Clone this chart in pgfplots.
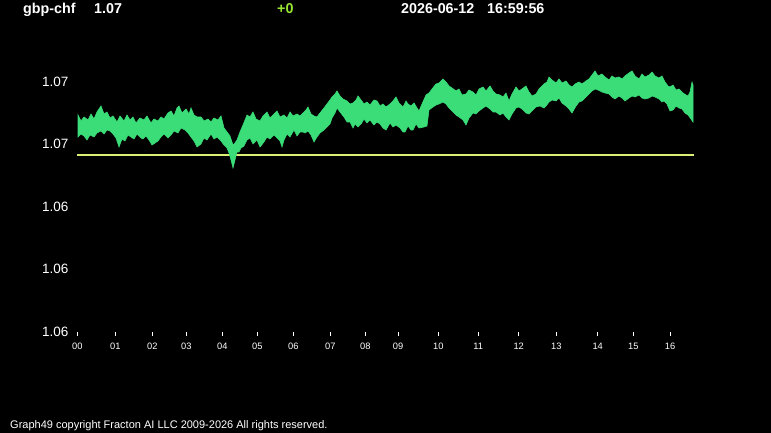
\documentclass[border=0pt]{standalone}
\usepackage{pgfplots}
\pgfplotsset{compat=1.18}
\usepackage{fontspec}
\setmainfont{Liberation Sans}
\definecolor{gbpgreen}{HTML}{3ADD78}
\definecolor{refyellow}{HTML}{DDEE77}
\definecolor{chglime}{HTML}{99E633}
\begin{document}
\begin{tikzpicture}[x=1pt,y=1pt]
\fill[black] (0,0) rectangle (771,433);
\useasboundingbox (0,0) rectangle (771,433);
\begin{axis}[
  at={(77pt,102pt)}, anchor=origin,
  scale only axis, width=623pt, height=266pt,
  xmin=77, xmax=700, ymin=1.0575, ymax=1.06814,
  axis x line*=bottom, axis y line*=left,
  axis line style={draw=none},
  xtick={77.3,115.3,152.3,186.3,222.3,257.3,293.3,330.3,365.3,398,438.3,478.3,518.7,556.3,597.7,633.3,670},
  xticklabels={00,01,02,03,04,05,06,07,08,09,10,11,12,13,14,15,16},
  ytick={1.0575,1.06,1.0625,1.065,1.0675},
  yticklabels={1.06,1.06,1.06,1.07,1.07},
  tick align=outside,
  x tick style={white, line width=0.9pt, yshift=-1.5pt},
  major tick length=3.5pt,
  y tick style={draw=none},
  xticklabel style={white, font=\fontsize{9.3}{9.3}\selectfont, anchor=north, inner sep=0pt, yshift=-8.5pt},
  yticklabel style={white, font=\fontsize{13.5}{13.5}\selectfont, anchor=east, inner sep=0pt, xshift=-5pt, yshift=-0.8pt},
]
\addplot[refyellow, line width=2pt] coordinates {(77,1.06454) (694,1.06454)};
\addplot[fill=gbpgreen, draw=gbpgreen, line width=0.6pt] coordinates {
(78,1.06614) (81,1.06590) (84,1.06606) (88,1.06594) (91,1.06618) (94,1.06598) (97,1.06626) (101,1.06650)
(104,1.06618) (107,1.06626) (110,1.06602) (113,1.06610) (117,1.06586) (120,1.06610) (124,1.06590) (127,1.06614)
(130,1.06594) (133,1.06606) (136,1.06582) (140,1.06602) (144,1.06594) (147,1.06610) (151,1.06582) (154,1.06598)
(158,1.06590) (161,1.06606) (164,1.06598) (168,1.06622) (171,1.06630) (174,1.06610) (177,1.06642) (179,1.06650)
(182,1.06622) (186,1.06638) (189,1.06618) (191,1.06642) (194,1.06614) (197,1.06606) (201,1.06606) (204,1.06590)
(208,1.06598) (211,1.06586) (214,1.06602) (218,1.06594) (221,1.06610) (224,1.06562) (227,1.06546) (230,1.06530)
(233,1.06494) (235,1.06502) (237,1.06514) (240,1.06546) (243,1.06574) (247,1.06614) (250,1.06606) (253,1.06626)
(256,1.06598) (260,1.06590) (263,1.06610) (267,1.06626) (270,1.06602) (273,1.06614) (277,1.06630) (280,1.06606)
(284,1.06614) (287,1.06602) (290,1.06626) (293,1.06610) (297,1.06618) (300,1.06610) (303,1.06622) (306,1.06634)
(308,1.06646) (311,1.06618) (314,1.06610) (317,1.06606) (320,1.06622) (324,1.06642) (327,1.06658) (330,1.06674)
(332,1.06686) (335,1.06698) (337,1.06710) (340,1.06690) (343,1.06678) (347,1.06670) (350,1.06658) (353,1.06662)
(356,1.06674) (358,1.06690) (361,1.06674) (364,1.06658) (367,1.06666) (370,1.06654) (374,1.06674) (377,1.06670)
(380,1.06650) (383,1.06658) (386,1.06646) (390,1.06658) (393,1.06670) (396,1.06686) (399,1.06662) (403,1.06646)
(406,1.06670) (408,1.06658) (411,1.06650) (414,1.06662) (417,1.06642) (419,1.06630) (422,1.06658) (426,1.06694)
(429,1.06702) (432,1.06718) (436,1.06738) (439,1.06742) (443,1.06758) (446,1.06746) (449,1.06730) (452,1.06722)
(456,1.06710) (459,1.06718) (462,1.06694) (466,1.06698) (469,1.06714) (473,1.06706) (476,1.06694) (479,1.06718)
(483,1.06726) (486,1.06710) (490,1.06730) (493,1.06710) (496,1.06698) (500,1.06694) (503,1.06686) (506,1.06702)
(509,1.06670) (512,1.06698) (516,1.06726) (519,1.06710) (522,1.06718) (526,1.06730) (529,1.06706) (532,1.06690)
(536,1.06698) (539,1.06718) (544,1.06738) (547,1.06746) (549,1.06766) (552,1.06754) (556,1.06742) (559,1.06758)
(562,1.06742) (566,1.06750) (569,1.06734) (572,1.06726) (575,1.06738) (579,1.06746) (582,1.06738) (586,1.06750)
(589,1.06758) (592,1.06774) (595,1.06790) (598,1.06770) (602,1.06778) (605,1.06766) (609,1.06754) (612,1.06770)
(615,1.06762) (619,1.06766) (622,1.06758) (625,1.06770) (629,1.06782) (632,1.06790) (635,1.06770) (639,1.06758)
(642,1.06778) (645,1.06766) (649,1.06774) (652,1.06786) (655,1.06770) (659,1.06762) (662,1.06770) (665,1.06746)
(668,1.06730) (670,1.06726) (673,1.06734) (676,1.06714) (679,1.06718) (683,1.06702) (686,1.06694) (688,1.06690)
(690,1.06706) (692,1.06746) (693,1.06734)
(693,1.06586) (691,1.06598) (688,1.06614) (685,1.06622) (682,1.06638) (679,1.06642) (676,1.06650) (673,1.06634)
(670,1.06630) (667,1.06658) (664,1.06670) (662,1.06666) (659,1.06678) (655,1.06686) (652,1.06690) (649,1.06682)
(645,1.06678) (642,1.06682) (639,1.06694) (635,1.06686) (632,1.06690) (629,1.06682) (625,1.06670) (622,1.06682)
(619,1.06690) (615,1.06678) (612,1.06686) (609,1.06698) (605,1.06702) (602,1.06706) (598,1.06714) (595,1.06718)
(592,1.06710) (589,1.06698) (586,1.06686) (582,1.06670) (579,1.06666) (576,1.06650) (572,1.06622) (569,1.06638)
(566,1.06650) (562,1.06662) (559,1.06682) (556,1.06670) (552,1.06674) (549,1.06666) (546,1.06650) (544,1.06642)
(540,1.06650) (536,1.06646) (532,1.06630) (529,1.06618) (526,1.06622) (522,1.06638) (519,1.06646) (516,1.06642)
(512,1.06618) (509,1.06594) (506,1.06606) (503,1.06622) (500,1.06614) (496,1.06626) (493,1.06626) (490,1.06638)
(486,1.06650) (483,1.06642) (479,1.06630) (476,1.06618) (473,1.06622) (469,1.06602) (466,1.06574) (463,1.06594)
(459,1.06606) (456,1.06614) (452,1.06630) (449,1.06642) (446,1.06658) (443,1.06666) (439,1.06658) (436,1.06654)
(433,1.06646) (429,1.06634) (427,1.06570) (424,1.06566) (419,1.06562) (416,1.06578) (413,1.06554) (411,1.06554)
(408,1.06570) (405,1.06546) (403,1.06546) (400,1.06562) (396,1.06574) (393,1.06566) (390,1.06582) (386,1.06554)
(383,1.06562) (380,1.06578) (377,1.06586) (374,1.06574) (370,1.06594) (367,1.06582) (364,1.06598) (361,1.06578)
(358,1.06566) (355,1.06578) (353,1.06562) (350,1.06586) (347,1.06586) (344,1.06606) (340,1.06626) (337,1.06642)
(335,1.06622) (332,1.06602) (330,1.06578) (327,1.06566) (324,1.06554) (320,1.06542) (317,1.06526) (314,1.06506)
(311,1.06534) (308,1.06550) (305,1.06542) (303,1.06546) (300,1.06546) (297,1.06530) (294,1.06554) (290,1.06526)
(287,1.06538) (284,1.06514) (282,1.06486) (280,1.06510) (277,1.06522) (274,1.06534) (270,1.06518) (267,1.06526)
(264,1.06506) (260,1.06486) (257,1.06514) (253,1.06498) (250,1.06522) (247,1.06514) (244,1.06490) (241,1.06482)
(239,1.06466) (237,1.06466) (235,1.06434) (233,1.06402) (231,1.06434) (229,1.06462) (227,1.06482) (224,1.06494)
(221,1.06510) (217,1.06526) (214,1.06518) (211,1.06538) (207,1.06514) (204,1.06522) (201,1.06498) (197,1.06486)
(194,1.06510) (191,1.06526) (188,1.06542) (185,1.06554) (181,1.06562) (178,1.06542) (174,1.06550) (171,1.06534)
(168,1.06522) (164,1.06538) (161,1.06526) (158,1.06510) (155,1.06502) (152,1.06494) (149,1.06514) (146,1.06530)
(143,1.06518) (141,1.06522) (137,1.06538) (134,1.06518) (131,1.06526) (128,1.06534) (125,1.06510) (122,1.06518)
(119,1.06486) (116,1.06522) (113,1.06538) (110,1.06550) (107,1.06554) (104,1.06538) (101,1.06550) (97,1.06542)
(94,1.06526) (90,1.06534) (87,1.06514) (84,1.06530) (81,1.06538) (78,1.06526)
} -- cycle;
\end{axis}
\begin{scope}[every node/.style={inner sep=0pt, text=white, font=\bfseries\fontsize{14.3}{14.3}\selectfont}]
\node[anchor=base west] at (23,419) {gbp-chf};
\node[anchor=base west] at (94,419) {1.07};
\node[anchor=base west, text=chglime] at (277,419) {+0};
\node[anchor=base west] at (401,419) {2026-06-12};
\node[anchor=base west] at (487,419) {16:59:56};
\end{scope}
\node[anchor=base west, inner sep=0pt, text=white, font=\fontsize{11}{11}\selectfont] at (10,4) {Graph49 copyright Fracton AI LLC 2009-2026 All rights reserved.};
\end{tikzpicture}
\end{document}
